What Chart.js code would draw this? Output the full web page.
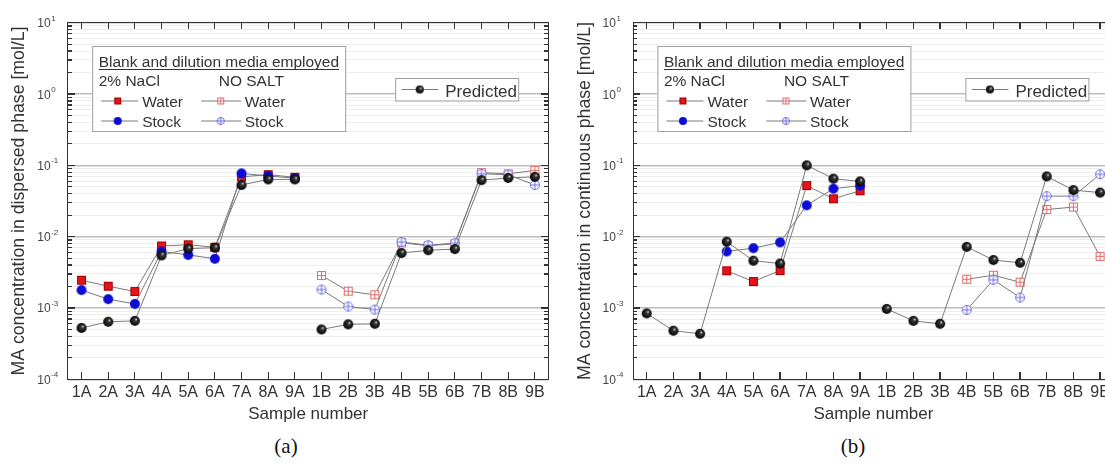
<!DOCTYPE html>
<html>
<head>
<meta charset="utf-8">
<script src="https://cdn.jsdelivr.net/npm/chart.js@4.4.1/dist/chart.umd.min.js"></script>
<style>
  html, body { margin: 0; padding: 0; background: #fff; overflow: hidden; width: 1105px; height: 473px; }
  .panel { position: absolute; top: 0; width: 566px; height: 430px; }
  .panel canvas { display: block; }
  #wrapA { left: 0; }
  #wrapB { left: 566px; }
  .frame { position: absolute; box-sizing: border-box; border: 1.5px solid #333; pointer-events: none; }
  .tick { position: absolute; background: #333; pointer-events: none; }
  .cap { position: absolute; top: 434px; width: 60px; margin-left: -30px; text-align: center;
         font: 21px "Liberation Serif", "Times New Roman", serif; color: #111; }
</style>
</head>
<body>
<div class="panel" id="wrapA"><canvas id="chartA" width="566" height="430"></canvas></div>
<div class="panel" id="wrapB"><canvas id="chartB" width="566" height="430"></canvas></div>
<div class="cap" style="left:286px">(a)</div>
<div class="cap" style="left:853px">(b)</div>

<script>
/* ── data ── */
var SAMPLES = ["1A","2A","3A","4A","5A","6A","7A","8A","9A","1B","2B","3B","4B","5B","6B","7B","8B","9B"];
var DECADES = [-4, -3, -2, -1, 0, 1];
var MINOR_STEPS = [2, 3, 4, 5, 6, 7, 8, 9];

/* (a) dispersed phase */
var dispPredicted  = [5.25e-4, 6.4e-4, 6.6e-4, 5.45e-3, 6.8e-3, 7.0e-3, 5.3e-2, 6.35e-2, 6.35e-2,
                      5.0e-4, 5.9e-4, 6.0e-4, 5.9e-3, 6.45e-3, 6.7e-3, 6.2e-2, 6.65e-2, 6.9e-2];
var dispNaclWater  = [2.45e-3, 2.02e-3, 1.70e-3, 7.4e-3, 7.7e-3, 7.1e-3, 6.9e-2, 7.4e-2, 6.8e-2,
                      null, null, null, null, null, null, null, null, null];
var dispNaclStock  = [1.78e-3, 1.33e-3, 1.14e-3, 6.2e-3, 5.55e-3, 4.9e-3, 7.7e-2, 7.1e-2, 6.6e-2,
                      null, null, null, null, null, null, null, null, null];
var dispSaltWater  = [null, null, null, null, null, null, null, null, null,
                      2.85e-3, 1.72e-3, 1.53e-3, 8.2e-3, 7.45e-3, 7.95e-3, 7.9e-2, 7.6e-2, 8.5e-2];
var dispSaltStock  = [null, null, null, null, null, null, null, null, null,
                      1.81e-3, 1.05e-3, 9.5e-4, 8.4e-3, 7.6e-3, 8.1e-3, 7.6e-2, 7.4e-2, 5.3e-2];

/* (b) continuous phase */
var contPredicted  = [8.4e-4, 4.8e-4, 4.35e-4, 8.5e-3, 4.6e-3, 4.2e-3, 1.0e-1, 6.5e-2, 5.95e-2,
                      9.7e-4, 6.6e-4, 6.0e-4, 7.2e-3, 4.7e-3, 4.3e-3, 7.0e-2, 4.5e-2, 4.15e-2];
var contNaclWater  = [null, null, null, 3.32e-3, 2.35e-3, 3.35e-3, 5.2e-2, 3.4e-2, 4.4e-2,
                      null, null, null, null, null, null, null, null, null];
var contNaclStock  = [null, null, null, 6.2e-3, 6.9e-3, 8.3e-3, 2.75e-2, 4.7e-2, 5.2e-2,
                      null, null, null, null, null, null, null, null, null];
var contSaltWater  = [null, null, null, null, null, null, null, null, null,
                      null, null, null, 2.53e-3, 2.88e-3, 2.3e-3, 2.4e-2, 2.6e-2, 5.3e-3];
var contSaltStock  = [null, null, null, null, null, null, null, null, null,
                      null, null, null, 9.4e-4, 2.48e-3, 1.4e-3, 3.7e-2, 3.7e-2, 7.5e-2];

var FONT = "'Liberation Sans', Arial, sans-serif";
var LINE = "#7a7a7a";
var TXT = "#333";
var GROUP_END = SAMPLES.indexOf("9A");

/* ── marker images ── */
function makeMarker(box, draw) {
  var cv = document.createElement("canvas");
  cv.width = box; cv.height = box;
  draw(cv.getContext("2d"), box / 2);
  return cv;
}
function sqFilled(s) {
  return makeMarker(s + 2, function(g, m) {
    g.fillStyle = "#e3141b"; g.fillRect(1, 1, s, s);
    g.strokeStyle = "#a00000"; g.lineWidth = 1; g.strokeRect(1.5, 1.5, s - 1, s - 1);
  });
}
function dotFilled(d) {
  return makeMarker(d + 2, function(g, m) {
    g.fillStyle = "#0c0cd6"; g.beginPath(); g.arc(m, m, d / 2, 0, Math.PI * 2); g.fill();
  });
}
function sqPlus(s, col) {
  return makeMarker(s + 2, function(g, m) {
    var k = Math.floor(m) + 0.5;
    g.fillStyle = "#fff"; g.fillRect(1, 1, s, s);
    g.strokeStyle = col; g.lineWidth = 1;
    g.strokeRect(1.5, 1.5, s - 1, s - 1);
    g.beginPath(); g.moveTo(k, 1.5); g.lineTo(k, s + 0.5); g.moveTo(1.5, k); g.lineTo(s + 0.5, k); g.stroke();
  });
}
function dotPlus(d, col) {
  return makeMarker(d + 2, function(g, m) {
    var r = d / 2 - 0.5;
    g.fillStyle = "#fff"; g.strokeStyle = col; g.lineWidth = 1;
    g.beginPath(); g.arc(m, m, r, 0, Math.PI * 2); g.fill(); g.stroke();
    g.beginPath(); g.moveTo(m, m - r); g.lineTo(m, m + r); g.moveTo(m - r, m); g.lineTo(m + r, m); g.stroke();
  });
}
function ball(d) {
  return makeMarker(d + 2, function(g, m) {
    var r = d / 2;
    var grd = g.createRadialGradient(m + r * 0.3, m - r * 0.35, 0, m, m, r);
    grd.addColorStop(0, "#f4f4f4");
    grd.addColorStop(0.3, "#3a3a3a");
    grd.addColorStop(1, "#000");
    g.fillStyle = grd; g.beginPath(); g.arc(m, m, r, 0, Math.PI * 2); g.fill();
  });
}

var MK = {
  ball: ball(10), sq: sqFilled(9), dot: dotFilled(10),
  sqp: sqPlus(9, "#e26a6a"), dotp: dotPlus(10, "#6a6ae4")
};
var LG = {
  ball: ball(8), sq: sqFilled(7), dot: dotFilled(8),
  sqp: sqPlus(7, "#e26a6a"), dotp: dotPlus(8, "#6a6ae4")
};

/* y grid values: decades plus 2..9 steps */
var GRID_VALUES = [];
DECADES.forEach(function(e) {
  GRID_VALUES.push(Math.pow(10, e));
  if (e < DECADES[DECADES.length - 1]) {
    MINOR_STEPS.forEach(function(s) { GRID_VALUES.push(+(s * Math.pow(10, e)).toPrecision(3)); });
  }
});
function isDecade(v) { return Math.abs(Math.log10(v) - Math.round(Math.log10(v))) < 1e-6; }

/* ── decade labels and legend boxes on the chart canvas ── */
function decoPlugin(predLeft) {
  return {
    id: "deco",
    afterDraw: function(chart) {
      var ctx = chart.ctx, ys = chart.scales.y;
      var L = chart.chartArea.left;
      ctx.save();

      ctx.fillStyle = "#444";
      DECADES.forEach(function(e) {
        var y = ys.getPixelForValue(Math.pow(10, e));
        ctx.font = "12px " + FONT;
        ctx.textAlign = "right";
        ctx.fillText("10", L - 17.5, y + 4.5);
        ctx.font = "8px " + FONT;
        ctx.textAlign = "left";
        ctx.fillText(e < 0 ? "-" + (-e) : String(e), L - 17, y - 2);
      });

      var bx = L + 24, by = 46;
      ctx.fillStyle = "#fff";
      ctx.fillRect(bx, by, 253, 85);
      ctx.strokeStyle = "#a0a0a0"; ctx.lineWidth = 1;
      ctx.strokeRect(bx + 0.5, by + 0.5, 253, 85);

      ctx.fillStyle = TXT;
      ctx.textAlign = "left";
      ctx.font = "15.5px " + FONT;
      var head = "Blank and dilution media employed";
      ctx.fillText(head, L + 30.5, 66.5);
      ctx.fillRect(L + 30.5, 69, ctx.measureText(head).width, 1);
      ctx.fillText("2% NaCl", L + 30.5, 85.5);
      ctx.fillText("NO SALT", L + 150.5, 85.5);

      var rows = [
        { y: 101, base: 106.7, text: "Water", c1: LG.sq, c2: LG.sqp },
        { y: 121, base: 127.3, text: "Stock", c1: LG.dot, c2: LG.dotp }
      ];
      rows.forEach(function(row) {
        ctx.strokeStyle = LINE;
        ctx.beginPath();
        ctx.moveTo(L + 33, row.y); ctx.lineTo(L + 70, row.y);
        ctx.moveTo(L + 133, row.y); ctx.lineTo(L + 173, row.y);
        ctx.stroke();
        ctx.drawImage(row.c1, L + 49.5 - row.c1.width / 2, row.y - row.c1.height / 2);
        ctx.drawImage(row.c2, L + 152.5 - row.c2.width / 2, row.y - row.c2.height / 2);
        ctx.fillStyle = TXT;
        ctx.fillText(row.text, L + 74, row.base);
        ctx.fillText(row.text, L + 176.5, row.base);
      });

      var px = L + predLeft, py = 78;
      ctx.fillStyle = "#fff";
      ctx.fillRect(px, py, 123, 22.5);
      ctx.strokeStyle = "#a0a0a0";
      ctx.strokeRect(px + 0.5, py + 0.5, 123, 22.5);
      ctx.strokeStyle = LINE;
      ctx.beginPath(); ctx.moveTo(px + 6.5, 89.5); ctx.lineTo(px + 43, 89.5); ctx.stroke();
      ctx.drawImage(LG.ball, px + 24.5 - LG.ball.width / 2, 89.5 - LG.ball.height / 2);
      ctx.fillStyle = TXT;
      ctx.font = "17px " + FONT;
      ctx.fillText("Predicted", px + 50, 96.5);

      ctx.restore();
    }
  };
}

/* ── frame and inward tick marks as page elements, placed from the chart's scales ── */
function addFrame(chart, wrapId) {
  var wrap = document.getElementById(wrapId);
  var a = chart.chartArea, xs = chart.scales.x, ys = chart.scales.y;
  function box(cls, l, t, w, h) {
    var d = document.createElement("div");
    d.className = cls;
    d.style.left = l + "px"; d.style.top = t + "px";
    d.style.width = w + "px"; d.style.height = h + "px";
    wrap.appendChild(d);
  }
  box("frame", a.left - 0.75, a.top - 0.75, a.right - a.left + 1.5, a.bottom - a.top + 1.5);
  GRID_VALUES.forEach(function(v) {
    var y = ys.getPixelForValue(v), len = isDecade(v) ? 7 : 4;
    box("tick", a.left, y - 0.6, len, 1.2);
    box("tick", a.right - len, y - 0.6, len, 1.2);
  });
  SAMPLES.forEach(function(s, i) {
    var x = xs.getPixelForTick(i);
    box("tick", x - 0.6, a.bottom - 7, 1.2, 7);
    box("tick", x - 0.6, a.top, 1.2, 6);
  });
}

function buildChart(id, p) {
  var sets = [
    { label: "Predicted", data: p.predicted, pointStyle: MK.ball, order: 0,
      segment: { borderColor: function(c) { return c.p0DataIndex === GROUP_END ? "rgba(0,0,0,0)" : undefined; } } },
    { label: "Stock (2% NaCl)", data: p.naclStock, pointStyle: MK.dot, order: 1 },
    { label: "Water (2% NaCl)", data: p.naclWater, pointStyle: MK.sq, order: 2 },
    { label: "Stock (NO SALT)", data: p.saltStock, pointStyle: MK.dotp, order: 1 },
    { label: "Water (NO SALT)", data: p.saltWater, pointStyle: MK.sqp, order: 2 }
  ];
  sets.forEach(function(d) {
    d.borderColor = LINE; d.borderWidth = 1; d.fill = false; d.tension = 0;
    d.pointRadius = 5; d.pointHoverRadius = 5; d.spanGaps = false;
  });

  var chart = new Chart(document.getElementById(id), {
    type: "line",
    data: { labels: SAMPLES, datasets: sets },
    options: {
      responsive: false, animation: false, events: [],
      layout: { padding: { top: 22.7, right: p.padRight, left: 0, bottom: 0 } },
      plugins: { legend: { display: false }, tooltip: { enabled: false } },
      scales: {
        x: {
          type: "category", offset: true,
          grid: { display: false, drawTicks: false }, border: { display: false },
          ticks: { autoSkip: false, maxRotation: 0, minRotation: 0, padding: 4, color: TXT, font: { family: FONT, size: 16 } },
          title: { display: true, text: "Sample number", color: TXT, font: { family: FONT, size: 17 }, padding: { top: 0, bottom: 5 } },
          afterFit: function(s) { s.height = 50.7; }
        },
        y: {
          type: "logarithmic", min: 1e-4, max: 10,
          border: { display: false },
          grid: {
            drawTicks: false,
            color: function(c) { return c.tick && isDecade(c.tick.value) ? "#bdbdbd" : "#ededed"; },
            lineWidth: function(c) { return c.tick && isDecade(c.tick.value) ? 1.6 : 1; }
          },
          ticks: { display: false },
          afterBuildTicks: function(s) { s.ticks = GRID_VALUES.map(function(v) { return { value: v }; }); },
          title: { display: true, text: p.yTitle, color: TXT, font: { family: FONT, size: 17.7 }, padding: { top: 8, bottom: 0 } },
          afterFit: function(s) { s.width = p.yWidth; }
        }
      }
    },
    plugins: [decoPlugin(p.predLeft)]
  });
  addFrame(chart, p.wrap);
  return chart;
}

buildChart("chartA", {
  yTitle: "MA concentration in dispersed phase [mol/L]",
  predicted: dispPredicted, naclWater: dispNaclWater, naclStock: dispNaclStock,
  saltWater: dispSaltWater, saltStock: dispSaltStock,
  yWidth: 68.2, padRight: 17.8, predLeft: 327, wrap: "wrapA"
});
buildChart("chartB", {
  yTitle: "MA concentration in continuous phase [mol/L]",
  predicted: contPredicted, naclWater: contNaclWater, naclStock: contNaclStock,
  saltWater: contSaltWater, saltStock: contSaltStock,
  yWidth: 67.4, padRight: 18.6, predLeft: 332, wrap: "wrapB"
});
</script>
</body>
</html>
